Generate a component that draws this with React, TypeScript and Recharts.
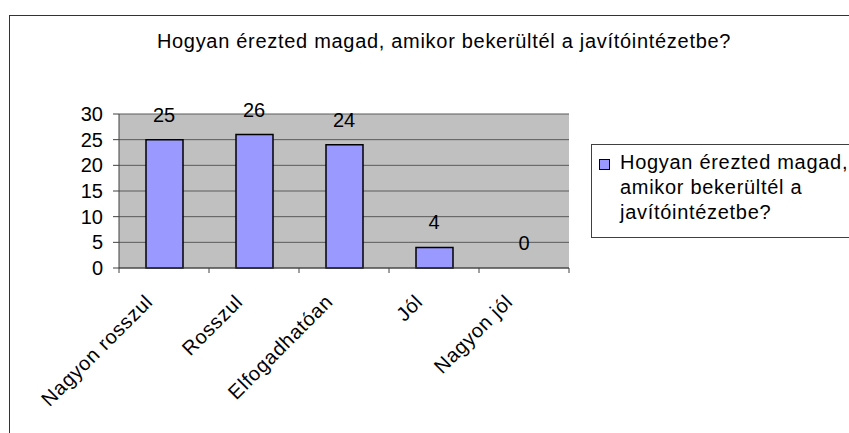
import React from "react";
import {
  ComposedChart,
  Bar,
  Scatter,
  XAxis,
  YAxis,
  CartesianGrid,
  Legend,
  LabelList,
} from "recharts";

const categories = ["Nagyon rosszul", "Rosszul", "Elfogadhatóan", "Jól", "Nagyon jól"];
const values = [25, 26, 24, 4, 0];
const yTicks = [0, 5, 10, 15, 20, 25, 30];
const seriesName = "Hogyan érezted magad, amikor bekerültél a javítóintézetbe?";
const title = "Hogyan érezted magad, amikor bekerültél a javítóintézetbe?";

const FONT = "'Liberation Sans', Arial, sans-serif";
const W = 849;
const H = 433;
const PLOT_LEFT = 119;
const PLOT_RIGHT = 569;
const PLOT_TOP = 114;
const PLOT_BOTTOM = 268;
const X_AXIS_H = 60;
const BAND = (PLOT_RIGHT - PLOT_LEFT) / categories.length;

const data = categories.map((name, i) => ({ name, value: values[i] }));

// tick marks sit between categories, labels turned 45 degrees
function XTick(props: any) {
  const { x, y, payload, index } = props;
  const axisY = y - 5;
  const tx = x - 10;
  const ty = y + 30;
  return (
    <g>
      <line x1={x - BAND / 2} x2={x - BAND / 2} y1={axisY} y2={axisY + 5} stroke="#404040" />
      {index === categories.length - 1 && (
        <line x1={x + BAND / 2} x2={x + BAND / 2} y1={axisY} y2={axisY + 5} stroke="#404040" />
      )}
      <text
        x={tx}
        y={ty}
        textAnchor="end"
        transform={`rotate(-45, ${tx}, ${ty})`}
        fontFamily={FONT}
        fontSize={20}
        letterSpacing={0.7}
        fill="#000"
      >
        {payload.value}
      </text>
    </g>
  );
}

// value above each bar; hung on an invisible scatter so the zero bar gets one too
function ValueLabel(props: any) {
  const vb = props.viewBox ?? props;
  const cx = Number(vb.x) + Number(vb.width || 0) / 2;
  const cy = Number(vb.y) + Number(vb.height || 0) / 2;
  return (
    <text x={cx} y={cy - 18} textAnchor="middle" fontFamily={FONT} fontSize={20} fill="#000">
      {props.value}
    </text>
  );
}

function LegendBox() {
  return (
    <div
      style={{
        position: "relative",
        width: 300,
        height: 94,
        boxSizing: "border-box",
        border: "1px solid #404040",
        background: "#fff",
        fontFamily: FONT,
        fontSize: 20,
        letterSpacing: 0.7,
        lineHeight: "25px",
        color: "#000",
        paddingTop: 5,
        paddingLeft: 28,
        textAlign: "left",
      }}
    >
      <div
        style={{
          position: "absolute",
          left: 7,
          top: 14,
          width: 9,
          height: 9,
          background: "#9999FF",
          border: "1px solid #000",
        }}
      />
      <div style={{ width: 240 }}>{seriesName}</div>
    </div>
  );
}

export default function App() {
  return (
    <div style={{ position: "absolute", left: 0, top: 0, width: W, height: H, overflow: "hidden", background: "#fff" }}>
      {/* chart area frame, runs off the right and bottom of the picture */}
      <div
        style={{
          position: "absolute",
          left: 9,
          top: 15,
          right: 0,
          bottom: 0,
          borderTop: "1px solid #333",
          borderLeft: "1px solid #333",
          zIndex: 5,
          pointerEvents: "none",
        }}
      />
      <div
        style={{
          position: "absolute",
          left: 0,
          width: 888,
          top: 31,
          textAlign: "center",
          fontFamily: FONT,
          fontSize: 20,
          letterSpacing: 0.7,
          lineHeight: "20px",
          color: "#000",
          whiteSpace: "nowrap",
        }}
      >
        {title}
      </div>
      <div style={{ position: "absolute", left: 0, top: 0 }}>
        <ComposedChart
          width={W}
          height={H}
          data={data}
          barSize={37}
          margin={{ top: PLOT_TOP, right: W - PLOT_RIGHT, bottom: H - PLOT_BOTTOM - X_AXIS_H, left: 0 }}
        >
          <CartesianGrid vertical={false} fill="#C0C0C0" stroke="#5a5a5a" fillOpacity={1} />
          <XAxis
            dataKey="name"
            height={X_AXIS_H}
            interval={0}
            tickLine={false}
            tickSize={5}
            tickMargin={0}
            axisLine={{ stroke: "#404040" }}
            tick={<XTick />}
          />
          <YAxis
            width={PLOT_LEFT}
            domain={[0, 30]}
            ticks={yTicks}
            interval={0}
            tickSize={6}
            tickMargin={10}
            axisLine={{ stroke: "#404040" }}
            tickLine={{ stroke: "#404040" }}
            tick={{ fontFamily: FONT, fontSize: 20, fill: "#000" }}
          />
          <Legend
            layout="horizontal"
            verticalAlign="middle"
            align="center"
            wrapperStyle={{ left: 591, top: 144, width: 300 }}
            content={() => <LegendBox />}
          />
          <Bar dataKey="value" name={seriesName} fill="#9999FF" stroke="#000" strokeWidth={1.5} isAnimationActive={false} />
          <Scatter dataKey="value" shape={() => <g />} legendType="none" isAnimationActive={false}>
            <LabelList dataKey="value" content={<ValueLabel />} />
          </Scatter>
        </ComposedChart>
      </div>
    </div>
  );
}
